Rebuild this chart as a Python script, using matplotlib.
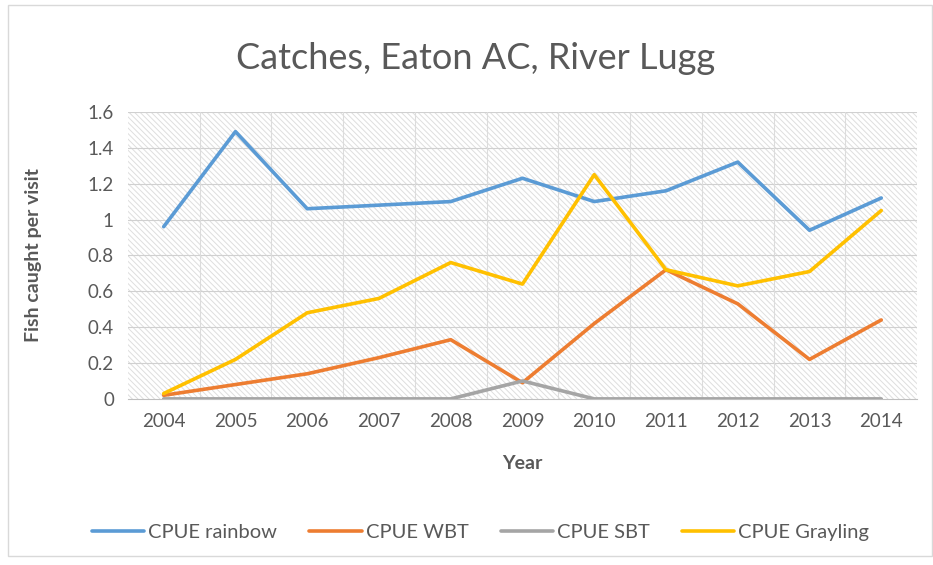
import matplotlib.pyplot as plt
import numpy as np
from matplotlib.patches import Rectangle

years = ["2004", "2005", "2006", "2007", "2008", "2009", "2010", "2011", "2012", "2013", "2014"]
rainbow = [0.96, 1.49, 1.06, 1.08, 1.10, 1.23, 1.10, 1.16, 1.32, 0.94, 1.12]
wbt = [0.02, 0.08, 0.14, 0.23, 0.33, 0.09, 0.42, 0.72, 0.53, 0.22, 0.44]
sbt = [0.0, 0.0, 0.0, 0.0, 0.0, 0.10, 0.0, 0.0, 0.0, 0.0, 0.0]
grayling = [0.03, 0.22, 0.48, 0.56, 0.76, 0.64, 1.25, 0.72, 0.63, 0.71, 1.05]

plt.rcParams['font.family'] = ['Lato', 'DejaVu Sans']
plt.rcParams['hatch.linewidth'] = 0.7
text_col = '#595959'

fig = plt.figure(figsize=(9.33, 5.65), dpi=100)
ax = fig.add_axes([0.137, 0.294, 0.846, 0.508])

# outer chart border
fig.patches.append(Rectangle((0.009, 0.016), 0.99, 0.975, transform=fig.transFigure,
                             fill=False, edgecolor='#d9d9d9', linewidth=1))

# hatched plot area
ax.add_patch(Rectangle((0, 0), 1, 1, transform=ax.transAxes, facecolor='white',
                       hatch='\\\\\\\\\\\\', edgecolor='#dedede', linewidth=0, zorder=0))

x = np.arange(len(years))
series = [
    ("CPUE rainbow", rainbow, '#5b9bd5'),
    ("CPUE WBT", wbt, '#ed7d31'),
    ("CPUE SBT", sbt, '#a5a5a5'),
    ("CPUE Grayling", grayling, '#ffc000'),
]
for name, vals, col in series:
    ax.plot(x, vals, color=col, lw=2.6, label=name, zorder=3, solid_capstyle='round')

ax.set_xlim(-0.5, len(years) - 0.5)
ax.set_ylim(0, 1.6)
ax.set_yticks(np.arange(0, 1.61, 0.2))
ax.set_yticklabels(["0", "0.2", "0.4", "0.6", "0.8", "1", "1.2", "1.4", "1.6"])
ax.set_xticks(x)
ax.set_xticklabels(years)

for yv in np.arange(0.2, 1.61, 0.2):
    ax.axhline(yv, color='#d0d0d0', lw=0.8, zorder=1)
for xv in np.arange(0.5, len(years) - 0.5, 1):
    ax.axvline(xv, color='#dcdcdc', lw=0.8, zorder=1)

for s in ['top', 'right', 'left']:
    ax.spines[s].set_visible(False)
ax.spines['bottom'].set_color('#bfbfbf')
ax.tick_params(length=0, labelsize=13.5, colors=text_col, pad=10)

ax.set_ylabel("Fish caught per visit", fontsize=14, fontweight='bold', color=text_col, labelpad=33)
ax.set_xlabel("Year", fontsize=14, fontweight='bold', color=text_col, labelpad=18)
fig.text(0.51, 0.897, "Catches, Eaton AC, River Lugg", ha='center', va='center',
         fontsize=26, color=text_col)

fig.legend(loc='center', bbox_to_anchor=(0.515, 0.058), ncol=4, frameon=False,
           fontsize=14.5, labelcolor=text_col, handlelength=2.6, columnspacing=1.6,
           handletextpad=0.2)

fig.savefig("out.png", dpi=100)
